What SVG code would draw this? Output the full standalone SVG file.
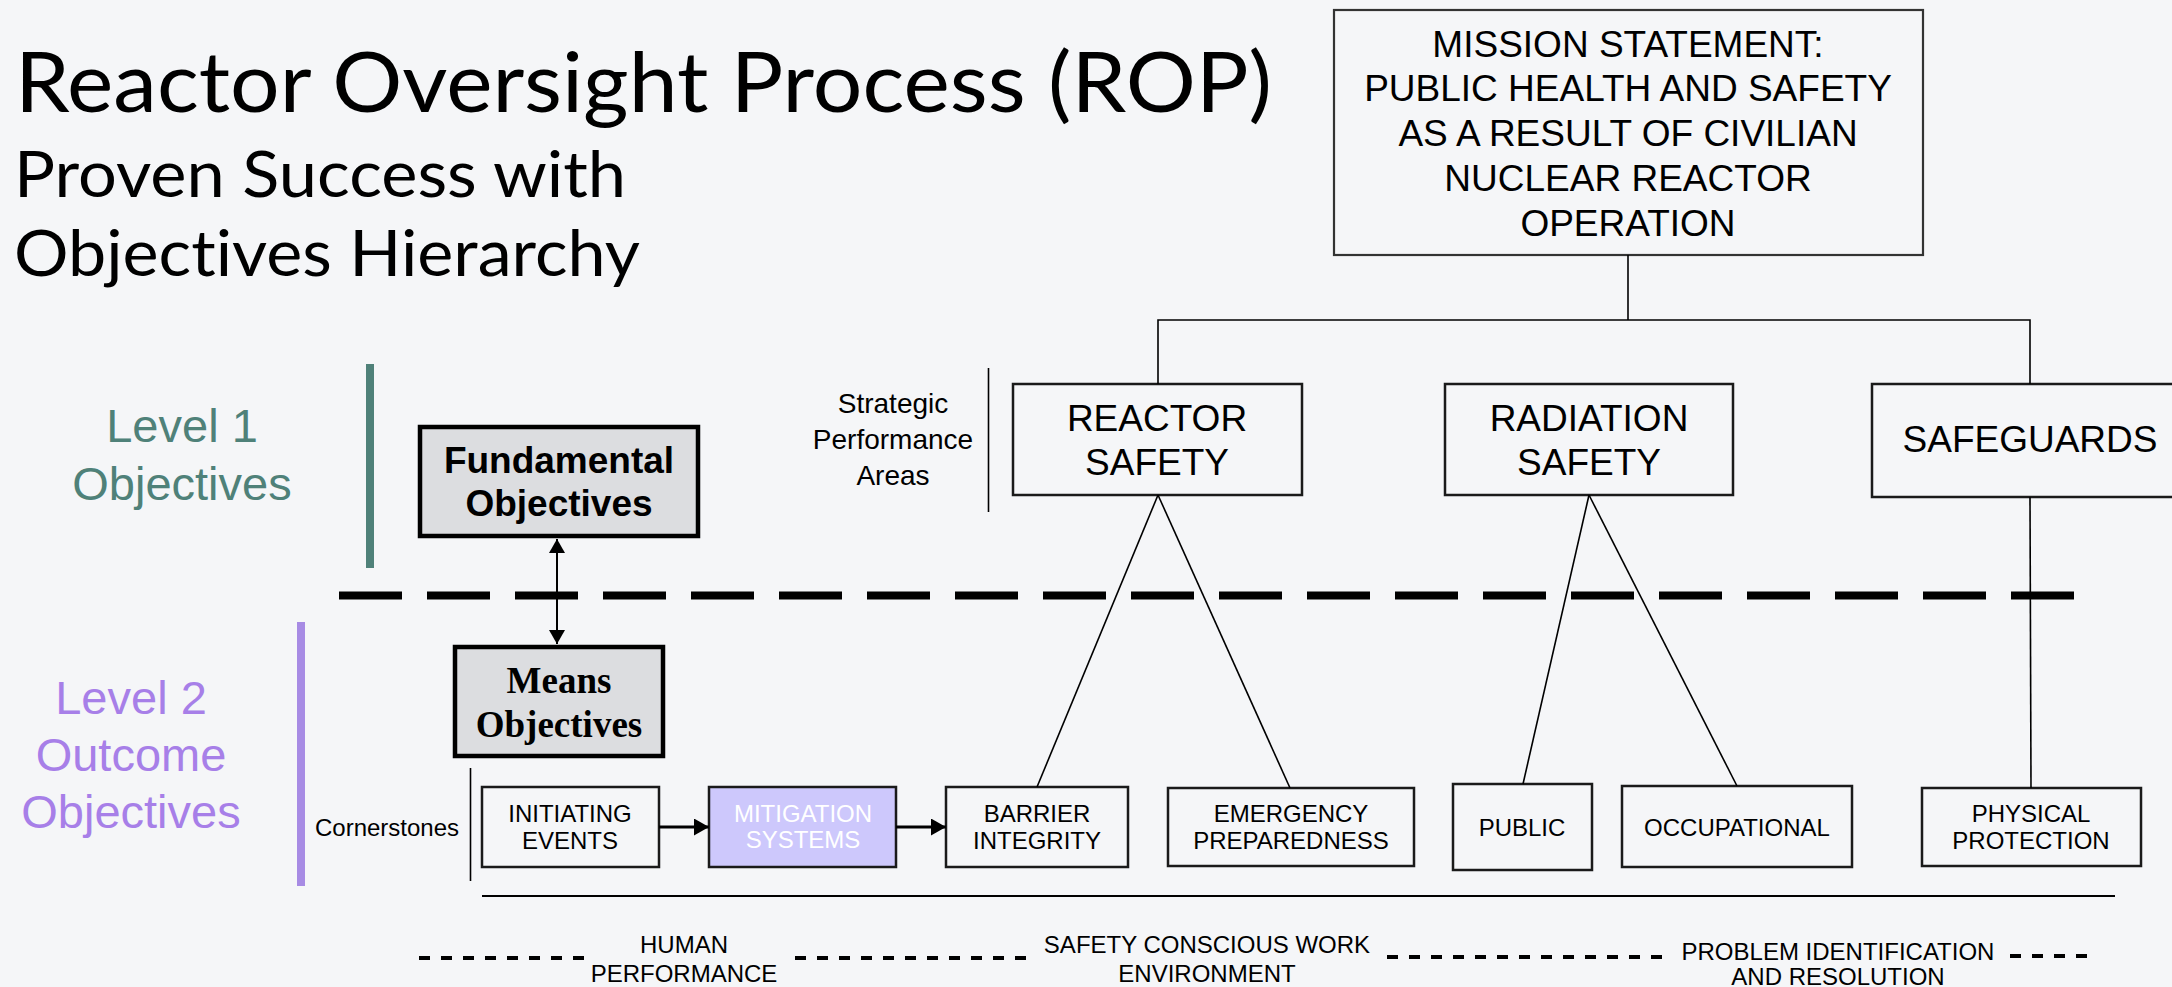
<svg xmlns="http://www.w3.org/2000/svg" width="2172" height="987" viewBox="0 0 2172 987">
<style>
.title{font-family:Lato,"Open Sans",sans-serif;fill:#000;font-variant-ligatures:none;font-feature-settings:"liga" 0}
.a{font-family:"Liberation Sans",Arial,sans-serif;fill:#000;text-anchor:middle}
.box{fill:none;stroke:#1a1a1a;stroke-width:2.5}
.thin{stroke:#000;stroke-width:1.6;fill:none}
.dash{stroke:#000;stroke-width:4;stroke-dasharray:11 11;fill:none}
</style>
<defs>
<marker id="ah" markerUnits="userSpaceOnUse" markerWidth="16" markerHeight="17" refX="15" refY="8.5" orient="auto">
<path d="M0,0 L15,8.5 L0,17 z" fill="#000"/>
</marker>
<marker id="av" markerUnits="userSpaceOnUse" markerWidth="15" markerHeight="16" refX="14" refY="8" orient="auto-start-reverse">
<path d="M0,0 L14,8 L0,16 z" fill="#000"/>
</marker>
</defs>
<rect x="0" y="0" width="2172" height="987" fill="#f5f6f8"/>

<g id="title">
<text class="title" x="15" y="112" font-size="84" textLength="1257" lengthAdjust="spacingAndGlyphs">Reactor Oversight Process (ROP)</text>
<text class="title" x="14" y="197" font-size="63" textLength="612" lengthAdjust="spacingAndGlyphs">Proven Success with</text>
<text class="title" x="14" y="276" font-size="63" textLength="626" lengthAdjust="spacingAndGlyphs">Objectives Hierarchy</text>
</g>

<g id="level1">
<rect x="366" y="364" width="8" height="204" fill="#4f8179"/>
<text class="a" x="182" y="442" font-size="47" style="fill:#4f8179">Level 1</text>
<text class="a" x="182" y="500" font-size="47" style="fill:#4f8179">Objectives</text>
</g>

<g id="level2">
<rect x="297" y="622" width="8" height="264" fill="#a78be4"/>
<text class="a" x="131" y="714" font-size="47" style="fill:#a77fe8">Level 2</text>
<text class="a" x="131" y="771" font-size="47" style="fill:#a77fe8">Outcome</text>
<text class="a" x="131" y="828" font-size="47" style="fill:#a77fe8">Objectives</text>
</g>

<g id="mission">
<rect x="1334" y="10" width="589" height="245" fill="none" stroke="#333" stroke-width="2.2"/>
<text class="a" x="1628" y="57" font-size="37">MISSION STATEMENT:</text>
<text class="a" x="1628" y="101" font-size="37">PUBLIC HEALTH AND SAFETY</text>
<text class="a" x="1628" y="146" font-size="37">AS A RESULT OF CIVILIAN</text>
<text class="a" x="1628" y="191" font-size="37">NUCLEAR REACTOR</text>
<text class="a" x="1628" y="236" font-size="37">OPERATION</text>
</g>

<g id="spa-label">
<text class="a" x="893" y="413" font-size="28">Strategic</text>
<text class="a" x="893" y="449" font-size="28">Performance</text>
<text class="a" x="893" y="485" font-size="28">Areas</text>
<line x1="988.5" y1="368" x2="988.5" y2="512" class="thin"/>
</g>

<g id="reactor-safety">
<rect x="1013" y="384" width="289" height="111" class="box"/>
<text class="a" x="1157" y="431" font-size="37">REACTOR</text>
<text class="a" x="1157" y="475" font-size="37">SAFETY</text>
</g>

<g id="radiation-safety">
<rect x="1445" y="384" width="288" height="111" class="box"/>
<text class="a" x="1589" y="431" font-size="37">RADIATION</text>
<text class="a" x="1589" y="475" font-size="37">SAFETY</text>
</g>

<g id="safeguards">
<rect x="1872" y="384" width="320" height="113" class="box"/>
<text class="a" x="2030" y="452" font-size="37">SAFEGUARDS</text>
</g>

<g id="fundamental">
<rect x="420" y="427" width="278" height="109" fill="#dcdde0" stroke="#000" stroke-width="4.5"/>
<text class="a" x="559" y="473" font-size="37" font-weight="bold">Fundamental</text>
<text class="a" x="559" y="516" font-size="37" font-weight="bold">Objectives</text>
</g>

<g id="means">
<rect x="455" y="647" width="208" height="109" fill="#dcdde0" stroke="#000" stroke-width="4.5"/>
<text x="559" y="693" font-size="37" font-weight="bold" text-anchor="middle" font-family="'Liberation Serif','Times New Roman',serif">Means</text>
<text x="559" y="737" font-size="37" font-weight="bold" text-anchor="middle" font-family="'Liberation Serif','Times New Roman',serif">Objectives</text>
</g>

<g id="cornerstones-label">
<text class="a" x="387" y="836" font-size="24">Cornerstones</text>
<line x1="470.5" y1="768" x2="470.5" y2="881" class="thin"/>
</g>

<g id="initiating">
<rect x="482" y="787" width="177" height="80" class="box"/>
<text class="a" x="570" y="822" font-size="24">INITIATING</text>
<text class="a" x="570" y="849" font-size="24">EVENTS</text>
</g>

<g id="mitigation">
<rect x="709" y="787" width="187" height="80" fill="#cdc8fc" stroke="#1a1a1a" stroke-width="2.5"/>
<text class="a" x="803" y="822" font-size="24" style="fill:#fff">MITIGATION</text>
<text class="a" x="803" y="848" font-size="24" style="fill:#fff">SYSTEMS</text>
</g>

<g id="barrier">
<rect x="946" y="787" width="182" height="80" class="box"/>
<text class="a" x="1037" y="822" font-size="24">BARRIER</text>
<text class="a" x="1037" y="849" font-size="24">INTEGRITY</text>
</g>

<g id="emergency">
<rect x="1168" y="788" width="246" height="78" class="box"/>
<text class="a" x="1291" y="822" font-size="24">EMERGENCY</text>
<text class="a" x="1291" y="849" font-size="24">PREPAREDNESS</text>
</g>

<g id="public">
<rect x="1453" y="784" width="139" height="86" class="box"/>
<text class="a" x="1522" y="836" font-size="24">PUBLIC</text>
</g>

<g id="occupational">
<rect x="1622" y="786" width="230" height="81" class="box"/>
<text class="a" x="1737" y="836" font-size="24">OCCUPATIONAL</text>
</g>

<g id="physical">
<rect x="1922" y="788" width="219" height="78" class="box"/>
<text class="a" x="2031" y="822" font-size="24">PHYSICAL</text>
<text class="a" x="2031" y="849" font-size="24">PROTECTION</text>
</g>

<g id="cross-cutting">
<line x1="482" y1="896" x2="2115" y2="896" stroke="#000" stroke-width="2.2"/>
<line x1="419" y1="958" x2="586" y2="958" class="dash"/>
<text class="a" x="684" y="953" font-size="24">HUMAN</text>
<text class="a" x="684" y="982" font-size="24">PERFORMANCE</text>
<line x1="795" y1="958" x2="1033" y2="958" class="dash"/>
<text class="a" x="1207" y="953" font-size="24">SAFETY CONSCIOUS WORK</text>
<text class="a" x="1207" y="982" font-size="24">ENVIRONMENT</text>
<line x1="1387" y1="957" x2="1670" y2="957" class="dash"/>
<text class="a" x="1838" y="960" font-size="24">PROBLEM IDENTIFICATION</text>
<text class="a" x="1838" y="985" font-size="24">AND RESOLUTION</text>
<line x1="2010" y1="956" x2="2095" y2="956" class="dash"/>
</g>

<g id="connectors">
<line x1="339" y1="595.5" x2="2076" y2="595.5" stroke="#000" stroke-width="8" stroke-dasharray="63 25"/>
<polyline points="1628,255 1628,320" class="thin"/>
<polyline points="1158,384 1158,320 2030,320 2030,384" class="thin"/>
<line x1="1158" y1="495" x2="1037" y2="787" class="thin"/>
<line x1="1158" y1="495" x2="1290" y2="788" class="thin"/>
<line x1="1589" y1="495" x2="1523" y2="784" class="thin"/>
<line x1="1589" y1="495" x2="1737" y2="786" class="thin"/>
<line x1="2030" y1="497" x2="2031" y2="788" class="thin"/>
<line x1="557" y1="539" x2="557" y2="644" stroke="#000" stroke-width="2" marker-start="url(#av)" marker-end="url(#av)"/>
<line x1="659" y1="827" x2="709" y2="827" stroke="#000" stroke-width="3" marker-end="url(#ah)"/>
<line x1="896" y1="827" x2="946" y2="827" stroke="#000" stroke-width="3" marker-end="url(#ah)"/>
</g>
</svg>
